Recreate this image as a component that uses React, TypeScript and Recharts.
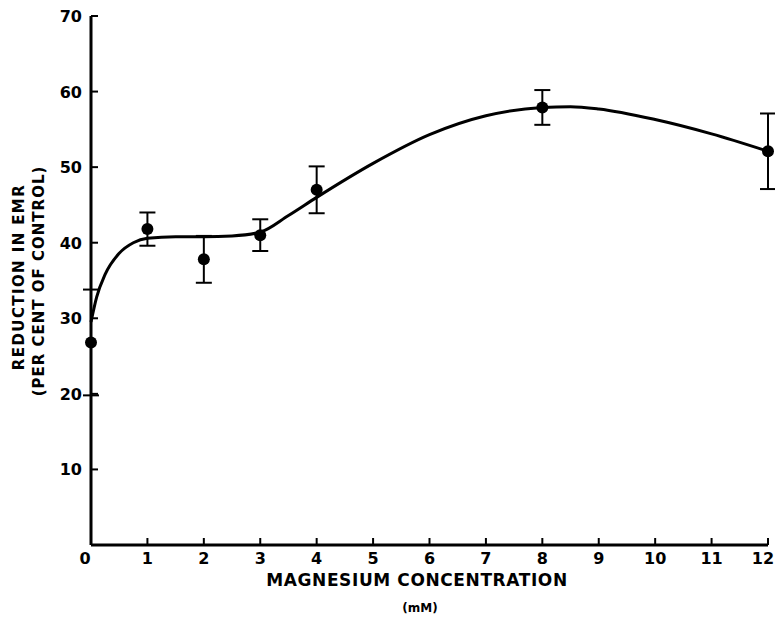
import React from "react";
import {
  ComposedChart,
  Line,
  Scatter,
  ErrorBar,
  XAxis,
  YAxis,
} from "recharts";

// measured points: concentration (mM), mean reduction, error
const concentrations = [0, 1, 2, 3, 4, 8, 12];
const reductions = [26.8, 41.8, 37.8, 41.0, 47.0, 57.9, 52.1];
const errors = [7.0, 2.2, 3.1, 2.1, 3.1, 2.3, 5.0];

// hand-drawn fitted curve
const curveX = [0, 0.1, 0.25, 0.5, 0.75, 1, 1.5, 2, 2.5, 3, 3.5, 4, 5, 6, 7, 8, 8.5, 9, 10, 11, 12];
const curveY = [29.5, 32.8, 35.8, 38.6, 40.0, 40.6, 40.8, 40.8, 40.9, 41.4, 43.6, 46.0, 50.5, 54.3, 56.8, 57.9, 58.0, 57.7, 56.3, 54.4, 52.1];

const xTicks = [0, 1, 2, 3, 4, 5, 6, 7, 8, 9, 10, 11, 12];
const yTicks = [10, 20, 30, 40, 50, 60, 70];

const FONT = "'DejaVu Sans', sans-serif";

const points = concentrations.map((x, i) => ({ x, y: reductions[i], err: errors[i] }));
const curve = curveX.map((x, i) => ({ x, y: curveY[i] }));

const YTick = ({ x, y, payload }: any) => (
  <g>
    <line x1={x} x2={x + 7} y1={y} y2={y} stroke="#000" strokeWidth={2} />
    <text
      x={x - 9}
      y={y}
      dy={6}
      textAnchor="end"
      fontFamily={FONT}
      fontWeight="bold"
      fontSize={16}
      fill="#000"
    >
      {payload.value}
    </text>
  </g>
);

const XTick = ({ x, y, payload }: any) => {
  // first and last labels sit a little inward, as in the original print
  const shift = payload.value === 0 ? -6 : payload.value === 12 ? -5 : 0;
  return (
    <g>
      {payload.value !== 0 && (
        <line x1={x} x2={x} y1={y} y2={y - 7} stroke="#000" strokeWidth={2} />
      )}
      <text
        x={x + shift}
        y={y + 19}
        textAnchor="middle"
        fontFamily={FONT}
        fontWeight="bold"
        fontSize={16}
        fill="#000"
      >
        {payload.value}
      </text>
    </g>
  );
};

export default function App() {
  return (
    <div style={{ position: "absolute", left: 0, top: 0, background: "#fff" }}>
      <ComposedChart
        width={775}
        height={619}
        margin={{ top: 16, right: 7, bottom: 0, left: 0 }}
      >
        <XAxis
          type="number"
          dataKey="x"
          domain={[0, 12]}
          ticks={xTicks}
          interval={0}
          axisLine={{ stroke: "#000", strokeWidth: 3 }}
          tickLine={false}
          tickSize={0}
          tickMargin={0}
          tick={<XTick />}
          height={74}
        />
        <YAxis
          type="number"
          dataKey="y"
          domain={[0, 70]}
          ticks={yTicks}
          interval={0}
          axisLine={{ stroke: "#000", strokeWidth: 3 }}
          tickLine={false}
          tickSize={0}
          tickMargin={0}
          tick={<YTick />}
          width={91}
        />
        <Line
          data={curve}
          dataKey="y"
          type="monotone"
          stroke="#000"
          strokeWidth={3}
          dot={false}
          isAnimationActive={false}
        />
        <Scatter
          data={points}
          dataKey="y"
          fill="#000"
          shape={(p: any) => <circle cx={p.cx} cy={p.cy} r={6} fill="#000" />}
          isAnimationActive={false}
        >
          <ErrorBar
            dataKey="err"
            direction="y"
            width={8}
            stroke="#000"
            strokeWidth={2}
            isAnimationActive={false}
          />
        </Scatter>
        <text
          x={417}
          y={586}
          textAnchor="middle"
          fontFamily={FONT}
          fontWeight="bold"
          fontSize={17}
          letterSpacing={0.6}
          fill="#000"
        >
          MAGNESIUM CONCENTRATION
        </text>
        <text
          x={420}
          y={612}
          textAnchor="middle"
          fontFamily={FONT}
          fontWeight="bold"
          fontSize={12}
          fill="#000"
        >
          (mM)
        </text>
        <text
          transform="translate(24 277) rotate(-90)"
          textAnchor="middle"
          fontFamily={FONT}
          fontWeight="bold"
          fontSize={15}
          letterSpacing={1.4}
          fill="#000"
        >
          REDUCTION IN EMR
        </text>
        <text
          transform="translate(44 281) rotate(-90)"
          textAnchor="middle"
          fontFamily={FONT}
          fontWeight="bold"
          fontSize={15}
          letterSpacing={1}
          fill="#000"
        >
          (PER CENT OF CONTROL)
        </text>
      </ComposedChart>
    </div>
  );
}
